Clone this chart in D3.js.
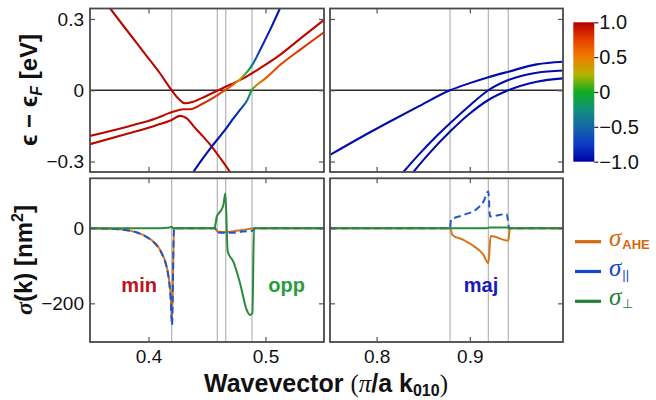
<!DOCTYPE html>
<html>
<head>
<meta charset="utf-8">
<script src="https://cdn.jsdelivr.net/npm/d3@7"></script>
<style>
  body { margin: 0; background: #fff; }
  text { font-family: "Liberation Sans", Arial, sans-serif; }
</style>
</head>
<body>
<svg id="chart" width="656" height="400"></svg>
<script>
// spin projection colour map (colorbar)
const spinStops = [-1, -0.75, -0.5, -0.25, 0, 0.25, 0.5, 0.75, 1];
const spinColors = ["#0000a8", "#0a3cc4", "#1468a8", "#12907a", "#10ac20", "#b4b400", "#f07c00", "#e84000", "#b40000"];
const spinTicks = [-1, -0.5, 0, 0.5, 1];

// bands near the minority / opposite pockets: [k, E - EF (eV), spin]
const bandMinA = [[0.3671, 0.345, 0.97], [0.38, 0.262, 0.97], [0.395, 0.166, 0.97], [0.4098, 0.0715, 0.97],
  [0.4198, 0.0, 0.97], [0.4255, -0.035, 0.97], [0.4312, -0.055, 0.97], [0.4383, -0.048, 0.97],
  [0.449, -0.025, 0.97], [0.4597, 0.0, 0.97], [0.47, 0.024, 0.97], [0.4811, 0.05, 0.97],
  [0.4954, 0.093, 0.97], [0.5124, 0.149, 0.97], [0.53, 0.218, 0.97], [0.55, 0.296, 0.97]];
const bandMinB = [[0.35, -0.192, 0.97], [0.3842, -0.150, 0.97], [0.405, -0.121, 0.96], [0.4198, -0.093, 0.95],
  [0.4298, -0.080, 0.93], [0.4355, -0.080, 0.9], [0.4469, -0.055, 0.85], [0.456, -0.030, 0.8],
  [0.4654, 0.0, 0.74], [0.472, 0.022, 0.62], [0.4782, 0.046, 0.35], [0.4845, 0.078, 0.0],
  [0.4896, 0.114, -0.45], [0.4954, 0.170, -0.8], [0.504, 0.255, -0.9], [0.5124, 0.345, -0.92]];
const bandMinC = [[0.35, -0.227, 0.97], [0.3842, -0.180, 0.97], [0.405, -0.150, 0.97], [0.4198, -0.125, 0.97],
  [0.427, -0.108, 0.97], [0.4327, -0.118, 0.97], [0.4383, -0.150, 0.97], [0.445, -0.186, 0.97],
  [0.454, -0.237, 0.97], [0.462, -0.290, 0.97], [0.4697, -0.344, 0.97]];
const bandMinD = [[0.4383, -0.344, -0.95], [0.446, -0.290, -0.95], [0.454, -0.237, -0.92], [0.4654, -0.167, -0.9],
  [0.4711, -0.128, -0.88], [0.4782, -0.083, -0.8], [0.4845, -0.041, -0.4], [0.4882, 0.0, 0.0],
  [0.4925, 0.022, 0.45], [0.5, 0.050, 0.65], [0.5124, 0.106, 0.75], [0.53, 0.172, 0.8], [0.55, 0.244, 0.8]];

// bands near the majority pocket
const bandMajA = [[0.75, -0.272, -0.95], [0.78, -0.205, -0.95], [0.8108, -0.139, -0.95], [0.845, -0.068, -0.95],
  [0.8788, 0.0, -0.95], [0.9, 0.030, -0.95], [0.9199, 0.055, -0.95], [0.9413, 0.078, -0.95],
  [0.9718, 0.109, -0.95], [1.0, 0.120, -0.95]];
const bandMajB = [[0.8287, -0.344, -0.95], [0.845, -0.272, -0.95], [0.862, -0.202, -0.95], [0.8788, -0.139, -0.95],
  [0.9, -0.064, -0.95], [0.9199, 0.0, -0.95], [0.9413, 0.043, -0.95], [0.9718, 0.074, -0.95], [1.0, 0.083, -0.95]];
const bandMajC = [[0.8394, -0.344, -0.95], [0.855, -0.272, -0.95], [0.8788, -0.174, -0.95], [0.9, -0.098, -0.95],
  [0.9199, -0.041, -0.95], [0.9413, 0.0, -0.95], [0.9718, 0.036, -0.95], [1.0, 0.050, -0.95]];

// Fermi-surface crossings (vertical guide lines)
const crossLeft = [0.4198, 0.4588, 0.466, 0.4885];
const crossRight = [0.8788, 0.9199, 0.9413];

// k-resolved conductivities [k, sigma (nm^2)]
const aheLeft = [[0.35, 0], [0.37, -2], [0.385, -7], [0.395, -17], [0.402, -30], [0.408, -48], [0.412, -70],
  [0.415, -95], [0.4175, -135], [0.419, -180], [0.4201, -250], [0.4218, 0], [0.457, 0], [0.4585, -8],
  [0.463, -10], [0.467, -10], [0.475, -7], [0.482, -4], [0.488, -1], [0.4905, 0], [0.55, 0]];
const parLeft = [[0.35, 0], [0.37, -2], [0.385, -7], [0.395, -18], [0.402, -31], [0.408, -50], [0.412, -72],
  [0.415, -98], [0.4175, -140], [0.419, -190], [0.4201, -258], [0.4218, 0], [0.457, 0], [0.4585, -11],
  [0.465, -12], [0.472, -12], [0.48, -9], [0.4865, -7], [0.4895, -6], [0.4905, 0], [0.55, 0]];
const perpLeft = [[0.35, 0], [0.41, 0], [0.418, 2], [0.4198, 4], [0.4205, 0], [0.4563, 0], [0.4575, 15],
  [0.4583, 31], [0.4612, 44], [0.464, 62], [0.4657, 93], [0.4677, -62], [0.4725, -89], [0.4783, -147],
  [0.484, -218], [0.4868, -231], [0.4888, -225], [0.4902, 0], [0.55, 0]];
const aheRight = [[0.75, 0], [0.8788, 0], [0.8813, -18], [0.893, -31], [0.9038, -47], [0.9147, -71],
  [0.9199, -93], [0.9224, -21], [0.9413, -33], [0.943, 0], [1.0, 0]];
const parRight = [[0.75, 0], [0.8788, 0], [0.8798, 22], [0.893, 35], [0.9074, 51], [0.9147, 71],
  [0.9199, 98], [0.9217, 31], [0.9396, 38], [0.9424, 0], [1.0, 0]];
const perpRight = [[0.75, 0], [0.918, 0], [0.921, 2], [0.94, 2], [0.942, 0], [1.0, 0]];

const legendNames = ["AHE", "||", "\u22a5"];
const legendColors = ["#d2690f", "#1248c8", "#238237"];
const sigmaColors = {ahe: "#d8741a", par: "#1f55d0", perp: "#2a8a3c"};

const svg = d3.select("#chart");
const defs = svg.append("defs");

// scales
const xL = d3.scaleLinear().domain([0.35, 0.55]).range([90, 324]);
const xR = d3.scaleLinear().domain([0.75, 1.0]).range([330, 563]);
const yE = d3.scaleLinear().domain([-0.344, 0.344]).range([172, 8.5]);
const yS = d3.scaleLinear().domain([-303, 133]).range([342, 178.3]);
const spin = d3.scaleLinear().domain(spinStops).range(spinColors);

const fmt = d => d === 0 ? "0" : (d < 0 ? "\u2212" : "") + d3.format(".1f")(Math.abs(d));
const fmtInt = d => d === 0 ? "0" : (d < 0 ? "\u2212" : "") + Math.abs(d);

const panels = [
  {id: "tl", x: xL, y: yE, grid: crossLeft, top: true, left: true},
  {id: "tr", x: xR, y: yE, grid: crossRight, top: true, left: false},
  {id: "bl", x: xL, y: yS, grid: crossLeft, top: false, left: true},
  {id: "br", x: xR, y: yS, grid: crossRight, top: false, left: false}
];

panels.forEach(p => {
  const [x0, x1] = p.x.range();
  const [y1, y0] = p.y.range();
  defs.append("clipPath").attr("id", "clip-" + p.id)
    .append("rect").attr("x", x0).attr("y", y0).attr("width", x1 - x0).attr("height", y1 - y0);
  p.g = svg.append("g").attr("clip-path", `url(#clip-${p.id})`);
  p.g.selectAll(".grid").data(p.grid).join("line")
    .attr("class", "grid")
    .attr("x1", d => p.x(d)).attr("x2", d => p.x(d))
    .attr("y1", y0).attr("y2", y1)
    .style("stroke", "#b4b4b4").style("stroke-width", 1.2);
  if (p.top) {
    p.g.append("line")
      .attr("x1", x0).attr("x2", x1).attr("y1", p.y(0)).attr("y2", p.y(0))
      .style("stroke", "#2b2b2b").style("stroke-width", 1.6);
  }
});

// band structure, coloured by spin via horizontal gradients
function drawBand(p, band, id) {
  const xa = p.x(band[0][0]), xb = p.x(band[band.length - 1][0]);
  const grad = defs.append("linearGradient").attr("id", id)
    .attr("gradientUnits", "userSpaceOnUse")
    .attr("x1", xa).attr("x2", xb).attr("y1", 0).attr("y2", 0);
  grad.selectAll("stop").data(band).join("stop")
    .attr("offset", d => (p.x(d[0]) - xa) / (xb - xa))
    .attr("stop-color", d => spin(d[2]));
  p.g.append("path").datum(band)
    .attr("d", d3.line().x(d => p.x(d[0])).y(d => p.y(d[1])).curve(d3.curveMonotoneX))
    .attr("fill", "none")
    .attr("stroke", `url(#${id})`)
    .attr("stroke-width", 2.1);
}
[bandMinA, bandMinB, bandMinC, bandMinD].forEach((b, i) => drawBand(panels[0], b, "bmin" + i));
[bandMajA, bandMajB, bandMajC].forEach((b, i) => drawBand(panels[1], b, "bmaj" + i));

// conductivity curves
function drawSigma(p, data, color, dash) {
  p.g.append("path").datum(data)
    .attr("d", d3.line().x(d => p.x(d[0])).y(d => p.y(d[1])).curve(d3.curveMonotoneX))
    .attr("fill", "none")
    .attr("stroke", color)
    .attr("stroke-width", 2)
    .attr("stroke-dasharray", dash || null);
}
drawSigma(panels[2], aheLeft, sigmaColors.ahe);
drawSigma(panels[2], parLeft, sigmaColors.par, "7,4");
drawSigma(panels[2], perpLeft, sigmaColors.perp);
drawSigma(panels[3], aheRight, sigmaColors.ahe);
drawSigma(panels[3], parRight, sigmaColors.par, "7,4");
drawSigma(panels[3], perpRight, sigmaColors.perp);

// frames and ticks
panels.forEach(p => {
  const [x0, x1] = p.x.range();
  const [y1, y0] = p.y.range();
  const xt = p.x === xL ? [0.4, 0.5] : [0.8, 0.9];
  const yt = p.top ? [-0.3, 0, 0.3] : [-200, 0];
  const ax = svg.append("g").attr("class", "axes");
  ax.append("g").attr("transform", `translate(0,${y1})`)
    .call(d3.axisBottom(p.x).tickValues(xt).tickSize(-5).tickPadding(8).tickFormat(p.top ? "" : d3.format(".1f")));
  ax.append("g").attr("transform", `translate(0,${y0})`)
    .call(d3.axisTop(p.x).tickValues(xt).tickSize(-5).tickFormat(""));
  ax.append("g").attr("transform", `translate(${x0},0)`)
    .call(d3.axisLeft(p.y).tickValues(yt).tickSize(-5).tickPadding(6)
      .tickFormat(p.left ? (p.top ? fmt : fmtInt) : ""));
  ax.append("g").attr("transform", `translate(${x1},0)`)
    .call(d3.axisRight(p.y).tickValues(yt).tickSize(-5).tickFormat(""));
  ax.selectAll(".domain").remove();
  ax.selectAll(".tick line").style("stroke", "#555").style("stroke-width", 1.2);
  ax.selectAll(".tick text").style("font-size", "19px").style("font-family", "Liberation Sans, Arial, sans-serif").style("fill", "#111");
  svg.append("rect").attr("x", x0).attr("y", y0).attr("width", x1 - x0).attr("height", y1 - y0)
    .style("fill", "none").style("stroke", "#4a4a4a").style("stroke-width", 1.8);
});

// colorbar
const cbScale = d3.scaleLinear().domain([-1, 1]).range([161.7, 22.3]);
const cbGrad = defs.append("linearGradient").attr("id", "cbgrad")
  .attr("x1", 0).attr("x2", 0).attr("y1", 1).attr("y2", 0);
cbGrad.selectAll("stop").data(spinStops).join("stop")
  .attr("offset", d => (d + 1) / 2)
  .attr("stop-color", d => spin(d));
svg.append("rect").attr("x", 573.3).attr("y", 22.3).attr("width", 21).attr("height", 139.4)
  .style("fill", "url(#cbgrad)");
const cbAxis = svg.append("g").attr("transform", "translate(594.3,0)")
  .call(d3.axisRight(cbScale).tickValues(spinTicks).tickSize(4).tickPadding(1).tickFormat(fmt));
cbAxis.select(".domain").remove();
cbAxis.selectAll(".tick line").style("stroke", "#222").style("stroke-width", 1.2);
cbAxis.selectAll(".tick text").style("font-size", "20px").style("fill", "#111");

// pocket labels
const pocketLabels = [
  {t: "min", x: xL(0.392), c: "#c0101a"},
  {t: "opp", x: xL(0.518), c: "#2a9a3e"},
  {t: "maj", x: xR(0.912), c: "#1a1ab4"}
];
svg.selectAll(".pocket").data(pocketLabels).join("text")
  .attr("class", "pocket")
  .attr("x", d => d.x).attr("y", yS(-170))
  .attr("text-anchor", "middle")
  .style("font-size", "20px").style("font-weight", "bold")
  .style("fill", d => d.c)
  .text(d => d.t);

// legend
const legend = svg.append("g").attr("class", "legend");
legendNames.forEach((name, i) => {
  const ly = 241.7 + i * 29.8;
  legend.append("line").attr("x1", 575).attr("x2", 601).attr("y1", ly).attr("y2", ly)
    .style("stroke", legendColors[i]).style("stroke-width", 3.2);
  const t = legend.append("text").attr("x", 609).attr("y", ly + 4).style("fill", legendColors[i]);
  t.append("tspan").style("font-family", "Liberation Serif, serif").style("font-style", "italic")
    .style("font-size", "25px").text("\u03c3");
  t.append("tspan").attr("dy", 3).attr("dx", 1)
    .style("font-size", "13px").style("font-weight", i === 0 ? "bold" : "normal").text(name);
});

// axis titles
const yTop = svg.append("text").attr("transform", "translate(37,90) rotate(-90)")
  .attr("text-anchor", "middle").style("font-size", "24px").style("font-weight", "bold").style("fill", "#111");
yTop.append("tspan").text("\u03f5 \u2212 \u03f5");
yTop.append("tspan").attr("dy", 5).style("font-size", "16px").style("font-style", "italic").text("F");
yTop.append("tspan").attr("dy", -5).text(" [eV]");

const yBot = svg.append("text").attr("transform", "translate(32,260) rotate(-90)")
  .attr("text-anchor", "middle").style("font-size", "24px").style("font-weight", "bold").style("fill", "#111");
yBot.append("tspan").style("font-family", "Liberation Serif, serif").style("font-style", "italic").text("\u03c3");
yBot.append("tspan").text("(k) [nm");
yBot.append("tspan").attr("dy", -9).style("font-size", "16px").text("2");
yBot.append("tspan").attr("dy", 9).text("]");

const xTitle = svg.append("text").attr("x", 326).attr("y", 392)
  .attr("text-anchor", "middle").style("font-size", "25px").style("font-weight", "bold").style("fill", "#111");
xTitle.append("tspan").text("Wavevector ");
xTitle.append("tspan").style("font-family", "Liberation Serif, serif").style("font-weight", "normal").text("(");
xTitle.append("tspan").style("font-family", "Liberation Serif, serif").style("font-style", "italic")
  .style("font-weight", "normal").text("\u03c0");
xTitle.append("tspan").text("/a k");
xTitle.append("tspan").attr("dy", 4).style("font-size", "16px").text("010");
xTitle.append("tspan").attr("dy", -4).style("font-family", "Liberation Serif, serif")
  .style("font-weight", "normal").text(")");
</script>
</body>
</html>
